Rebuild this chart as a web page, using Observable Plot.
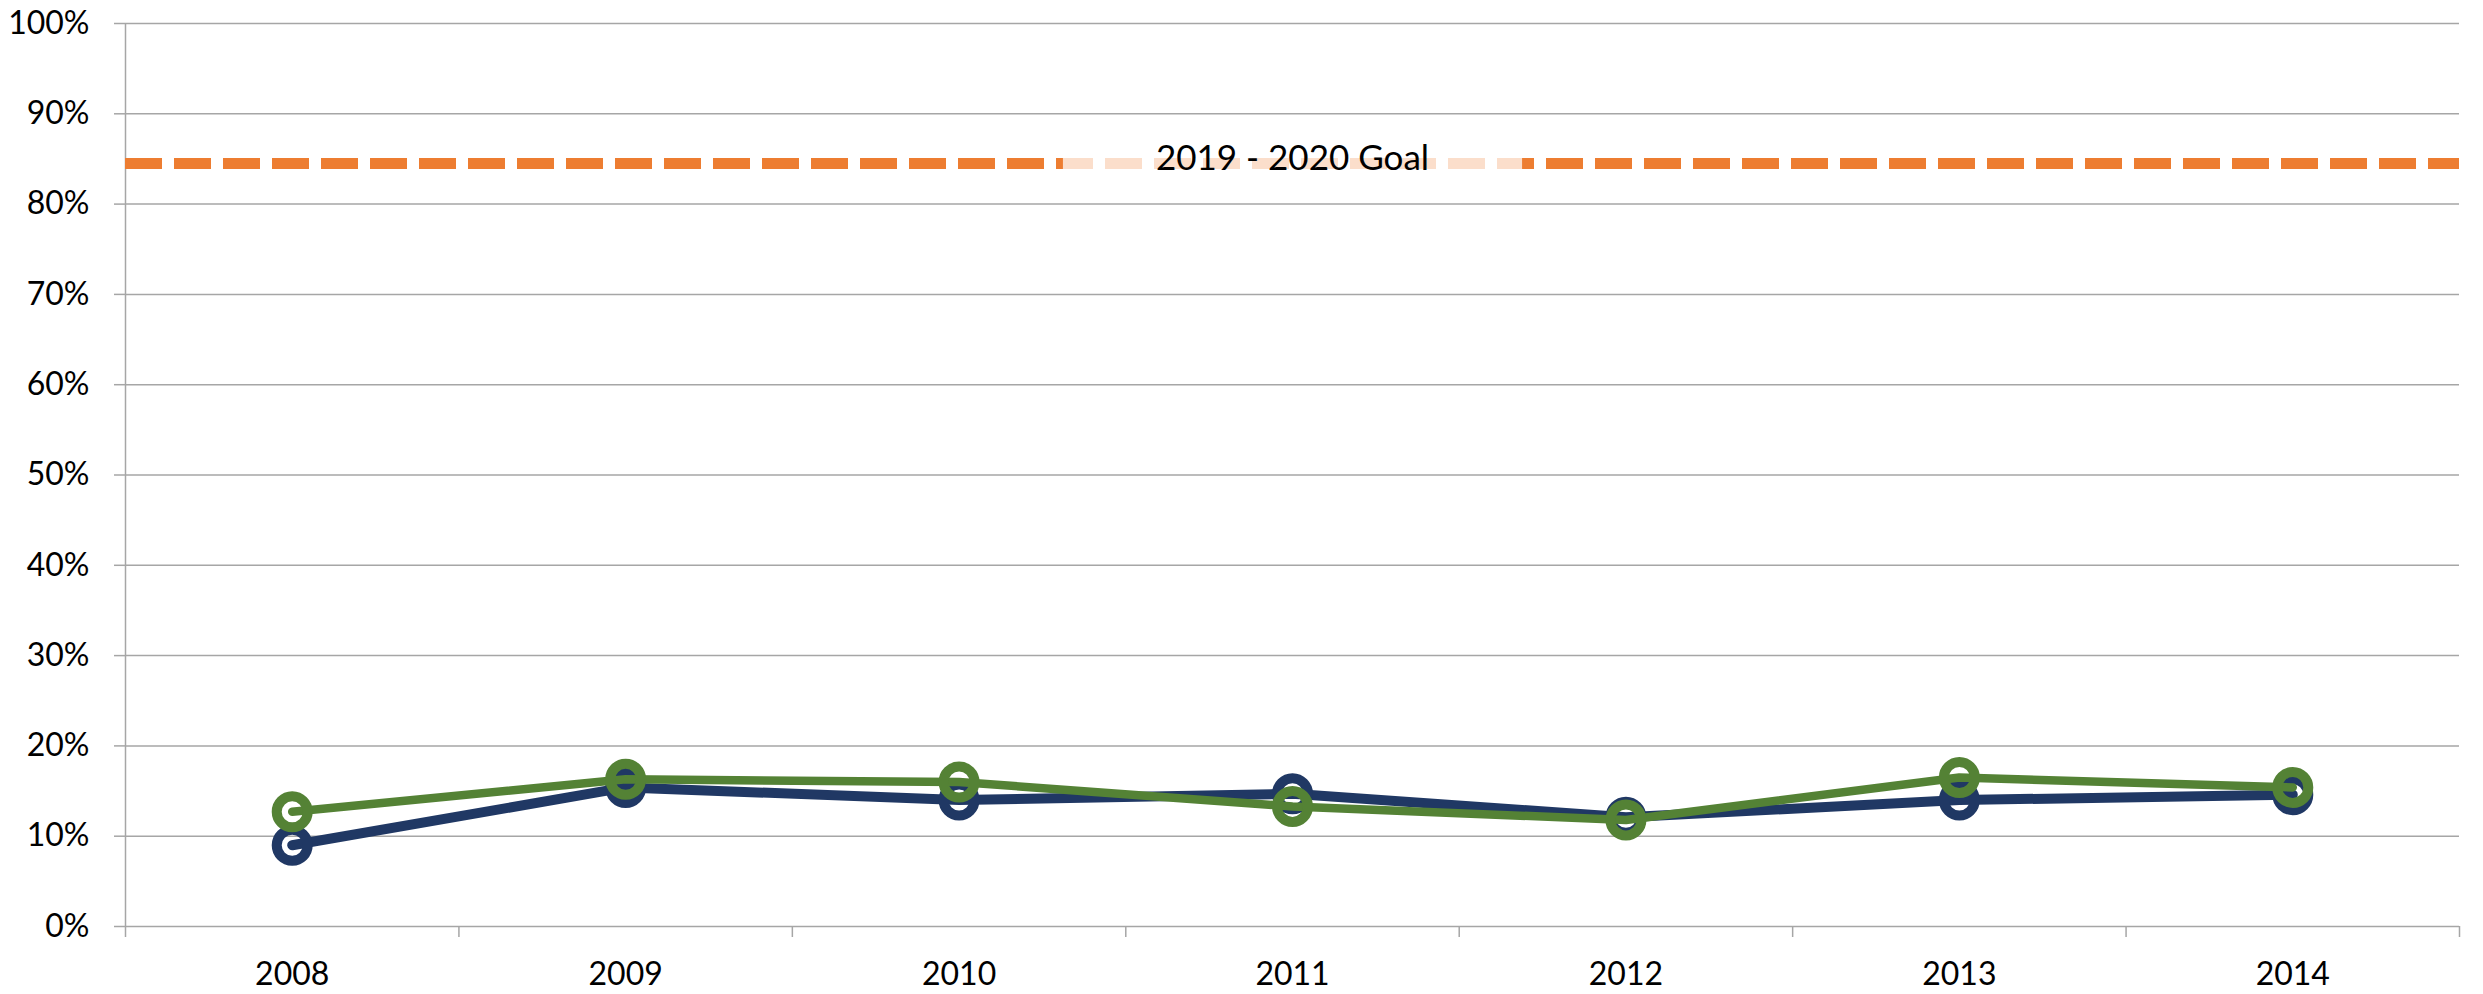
<!DOCTYPE html>
<html>
<head>
<meta charset="utf-8">
<script src="https://cdn.jsdelivr.net/npm/d3@7"></script>
<script src="https://cdn.jsdelivr.net/npm/@observablehq/plot@0.6"></script>
<style>
  html, body { margin: 0; padding: 0; background: #ffffff; }
  #chart { width: 2483px; height: 994px; }
</style>
</head>
<body>
<div id="chart"></div>
<script>
// ---- data ----
const years = [2008, 2009, 2010, 2011, 2012, 2013, 2014];
const seriesBlue = [0.090, 0.154, 0.140, 0.147, 0.121, 0.140, 0.146];
const seriesGreen = [0.127, 0.163, 0.160, 0.133, 0.118, 0.165, 0.154];
const goalValue = 0.845;
const goalLabel = "2019 - 2020 Goal";
const goalLabelYear = 2011;
const yTicks = [0, 0.1, 0.2, 0.3, 0.4, 0.5, 0.6, 0.7, 0.8, 0.9, 1.0];

// ---- styles ----
const BLUE = "#203864";
const GREEN = "#548235";
const ORANGE = "#ED7D31";
const GRID = "#A6A6A6";

const blueData = years.map((year, i) => ({year, value: seriesBlue[i]}));
const greenData = years.map((year, i) => ({year, value: seriesGreen[i]}));
const boundaries = [...years.map(y => y - 0.5), years[years.length - 1] + 0.5];

const chart = Plot.plot({
  width: 2483,
  height: 994,
  marginLeft: 125,
  marginRight: 24,
  marginTop: 23,
  marginBottom: 68,
  style: {fontFamily: "Lato, 'Open Sans', sans-serif", fontSize: "32px", color: "black", background: "white"},
  x: {domain: [boundaries[0], boundaries[boundaries.length - 1]], label: null},
  y: {domain: [0, 1], label: null},
  marks: [
    Plot.gridY({ticks: yTicks, stroke: GRID, strokeOpacity: 1, strokeWidth: 1.5}),
    Plot.ruleX([boundaries[0]], {stroke: GRID, strokeWidth: 1.5}),
    Plot.axisY({ticks: yTicks, tickSize: 11, tickFormat: () => "", stroke: GRID, strokeWidth: 1.5, label: null}),
    Plot.axisY({ticks: yTicks, tickSize: 0, tickPadding: 36, tickFormat: d3.format(".0%"), fontSize: 32, fill: "black", label: null}),
    Plot.axisX({ticks: boundaries, tickSize: 11, tickFormat: () => "", stroke: GRID, strokeWidth: 1.5, label: null}),
    Plot.axisX({ticks: years, tickSize: 0, tickPadding: 36, tickFormat: d => String(d), fontSize: 32, fill: "black", label: null}),
    Plot.ruleY([goalValue], {stroke: ORANGE, strokeWidth: 11, strokeDasharray: "37,12"}),
    Plot.text([goalLabel], {x: goalLabelYear, y: goalValue, text: d => d, dy: -5, fontSize: 35, fill: "black", className: "goal-label"}),
    Plot.line(blueData, {x: "year", y: "value", stroke: BLUE, strokeWidth: 10, strokeLinecap: "round", strokeLinejoin: "round"}),
    Plot.dot(blueData, {x: "year", y: "value", r: 15.5, stroke: BLUE, strokeWidth: 10, fill: "none"}),
    Plot.line(greenData, {x: "year", y: "value", stroke: GREEN, strokeWidth: 8.5, strokeLinecap: "round", strokeLinejoin: "round"}),
    Plot.dot(greenData, {x: "year", y: "value", r: 15.5, stroke: GREEN, strokeWidth: 10, fill: "none"})
  ]
});

document.getElementById("chart").appendChild(chart);

// semi-transparent white label box behind the goal label
const labelTexts = Array.from(chart.querySelectorAll("text")).filter(t => t.textContent === goalLabel);
labelTexts.forEach(t => {
  const bb = t.getBBox();
  const padX = 93;
  const rect = document.createElementNS("http://www.w3.org/2000/svg", "rect");
  rect.setAttribute("x", bb.x - padX);
  rect.setAttribute("y", bb.y);
  rect.setAttribute("width", bb.width + 2 * padX);
  rect.setAttribute("height", bb.height);
  rect.setAttribute("fill", "white");
  rect.setAttribute("fill-opacity", "0.75");
  const tr = t.getAttribute("transform");
  if (tr) rect.setAttribute("transform", tr);
  t.parentNode.insertBefore(rect, t);
});
</script>
</body>
</html>
